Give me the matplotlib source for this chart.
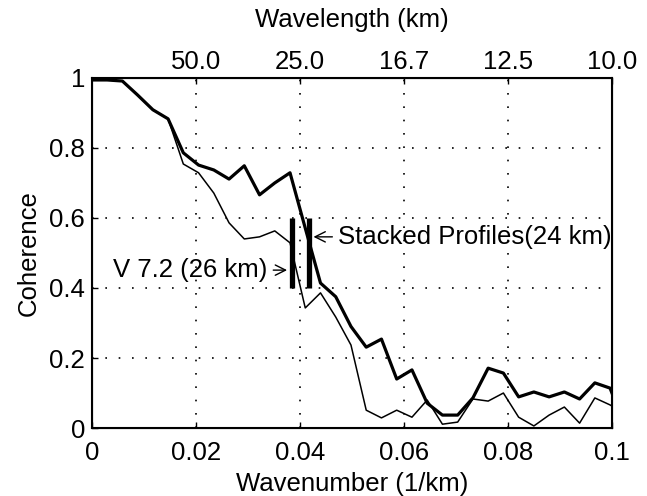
import matplotlib
matplotlib.use("Agg")
import matplotlib.pyplot as plt
import numpy as np

plt.rcParams['font.family'] = ['Liberation Sans', 'DejaVu Sans']

# wavenumber samples (1/km)
dk = 0.00293
wavenumber = np.arange(36) * dk

stacked = [0.994, 0.994, 0.991, 0.951, 0.909, 0.883, 0.786, 0.751, 0.737, 0.711,
           0.749, 0.666, 0.700, 0.729, 0.571, 0.414, 0.375, 0.290, 0.231, 0.254,
           0.140, 0.166, 0.071, 0.037, 0.037, 0.086, 0.171, 0.157, 0.089, 0.103,
           0.089, 0.103, 0.083, 0.129, 0.114, 0.0]
v72 = [0.994, 0.994, 0.991, 0.951, 0.909, 0.883, 0.754, 0.729, 0.671, 0.586,
       0.540, 0.546, 0.563, 0.529, 0.343, 0.386, 0.317, 0.237, 0.051, 0.029,
       0.051, 0.031, 0.080, 0.011, 0.017, 0.083, 0.077, 0.100, 0.031, 0.006,
       0.037, 0.060, 0.014, 0.086, 0.066, 0.04]

cutoff_v72 = 1 / 26
cutoff_stacked = 1 / 24

xticks = [0, 0.02, 0.04, 0.06, 0.08, 0.1]
xticklabels = ['0', '0.02', '0.04', '0.06', '0.08', '0.1']
yticks = [0, 0.2, 0.4, 0.6, 0.8, 1]
yticklabels = ['0', '0.2', '0.4', '0.6', '0.8', '1']
top_ticks = [0.02, 0.04, 0.06, 0.08, 0.1]
top_labels = ['50.0', '25.0', '16.7', '12.5', '10.0']

fs = 18.5

fig = plt.figure(figsize=(6.47, 4.96), dpi=100)
ax = fig.add_axes([0.142, 0.137, 0.804, 0.706])

ax.plot(wavenumber, stacked, color='black', lw=2.3)
ax.plot(wavenumber, v72, color='black', lw=1.1)

ax.plot([cutoff_v72, cutoff_v72], [0.40, 0.60], color='black', lw=3.8, solid_capstyle='butt')
ax.plot([cutoff_stacked, cutoff_stacked], [0.40, 0.60], color='black', lw=3.8, solid_capstyle='butt')

ax.annotate('Stacked Profiles(24 km)', xy=(cutoff_stacked + 0.0004, 0.546),
            xytext=(0.0473, 0.546), va='center', ha='left', fontsize=fs,
            arrowprops=dict(arrowstyle='->', color='black', lw=1))
ax.annotate('V 7.2 (26 km)', xy=(cutoff_v72 - 0.0004, 0.451),
            xytext=(0.0338, 0.451), va='center', ha='right', fontsize=fs,
            arrowprops=dict(arrowstyle='->', color='black', lw=1))

ax.set_xlim(0, 0.1)
ax.set_ylim(0, 1)
ax.set_xticks(xticks)
ax.set_xticklabels(xticklabels)
ax.set_yticks(yticks)
ax.set_yticklabels(yticklabels)
ax.tick_params(axis='x', direction='in', labelsize=fs, length=4, width=1, pad=9.5)
ax.tick_params(axis='y', direction='in', labelsize=fs, length=4, width=1, pad=5)
ax.grid(True, color='black', linestyle=(0, (1, 7)), lw=1.2)
for s in ax.spines.values():
    s.set_linewidth(1.5)
ax.set_xlabel('Wavenumber (1/km)', fontsize=fs, labelpad=5)
ax.set_ylabel('Coherence', fontsize=fs, labelpad=6)

top = ax.twiny()
top.set_xlim(0, 0.1)
top.set_xticks(top_ticks)
top.set_xticklabels(top_labels)
top.tick_params(direction='in', labelsize=fs, length=4, width=1, pad=3)
top.set_xlabel('Wavelength (km)', fontsize=fs, labelpad=16)

fig.savefig('out.png', dpi=100)
